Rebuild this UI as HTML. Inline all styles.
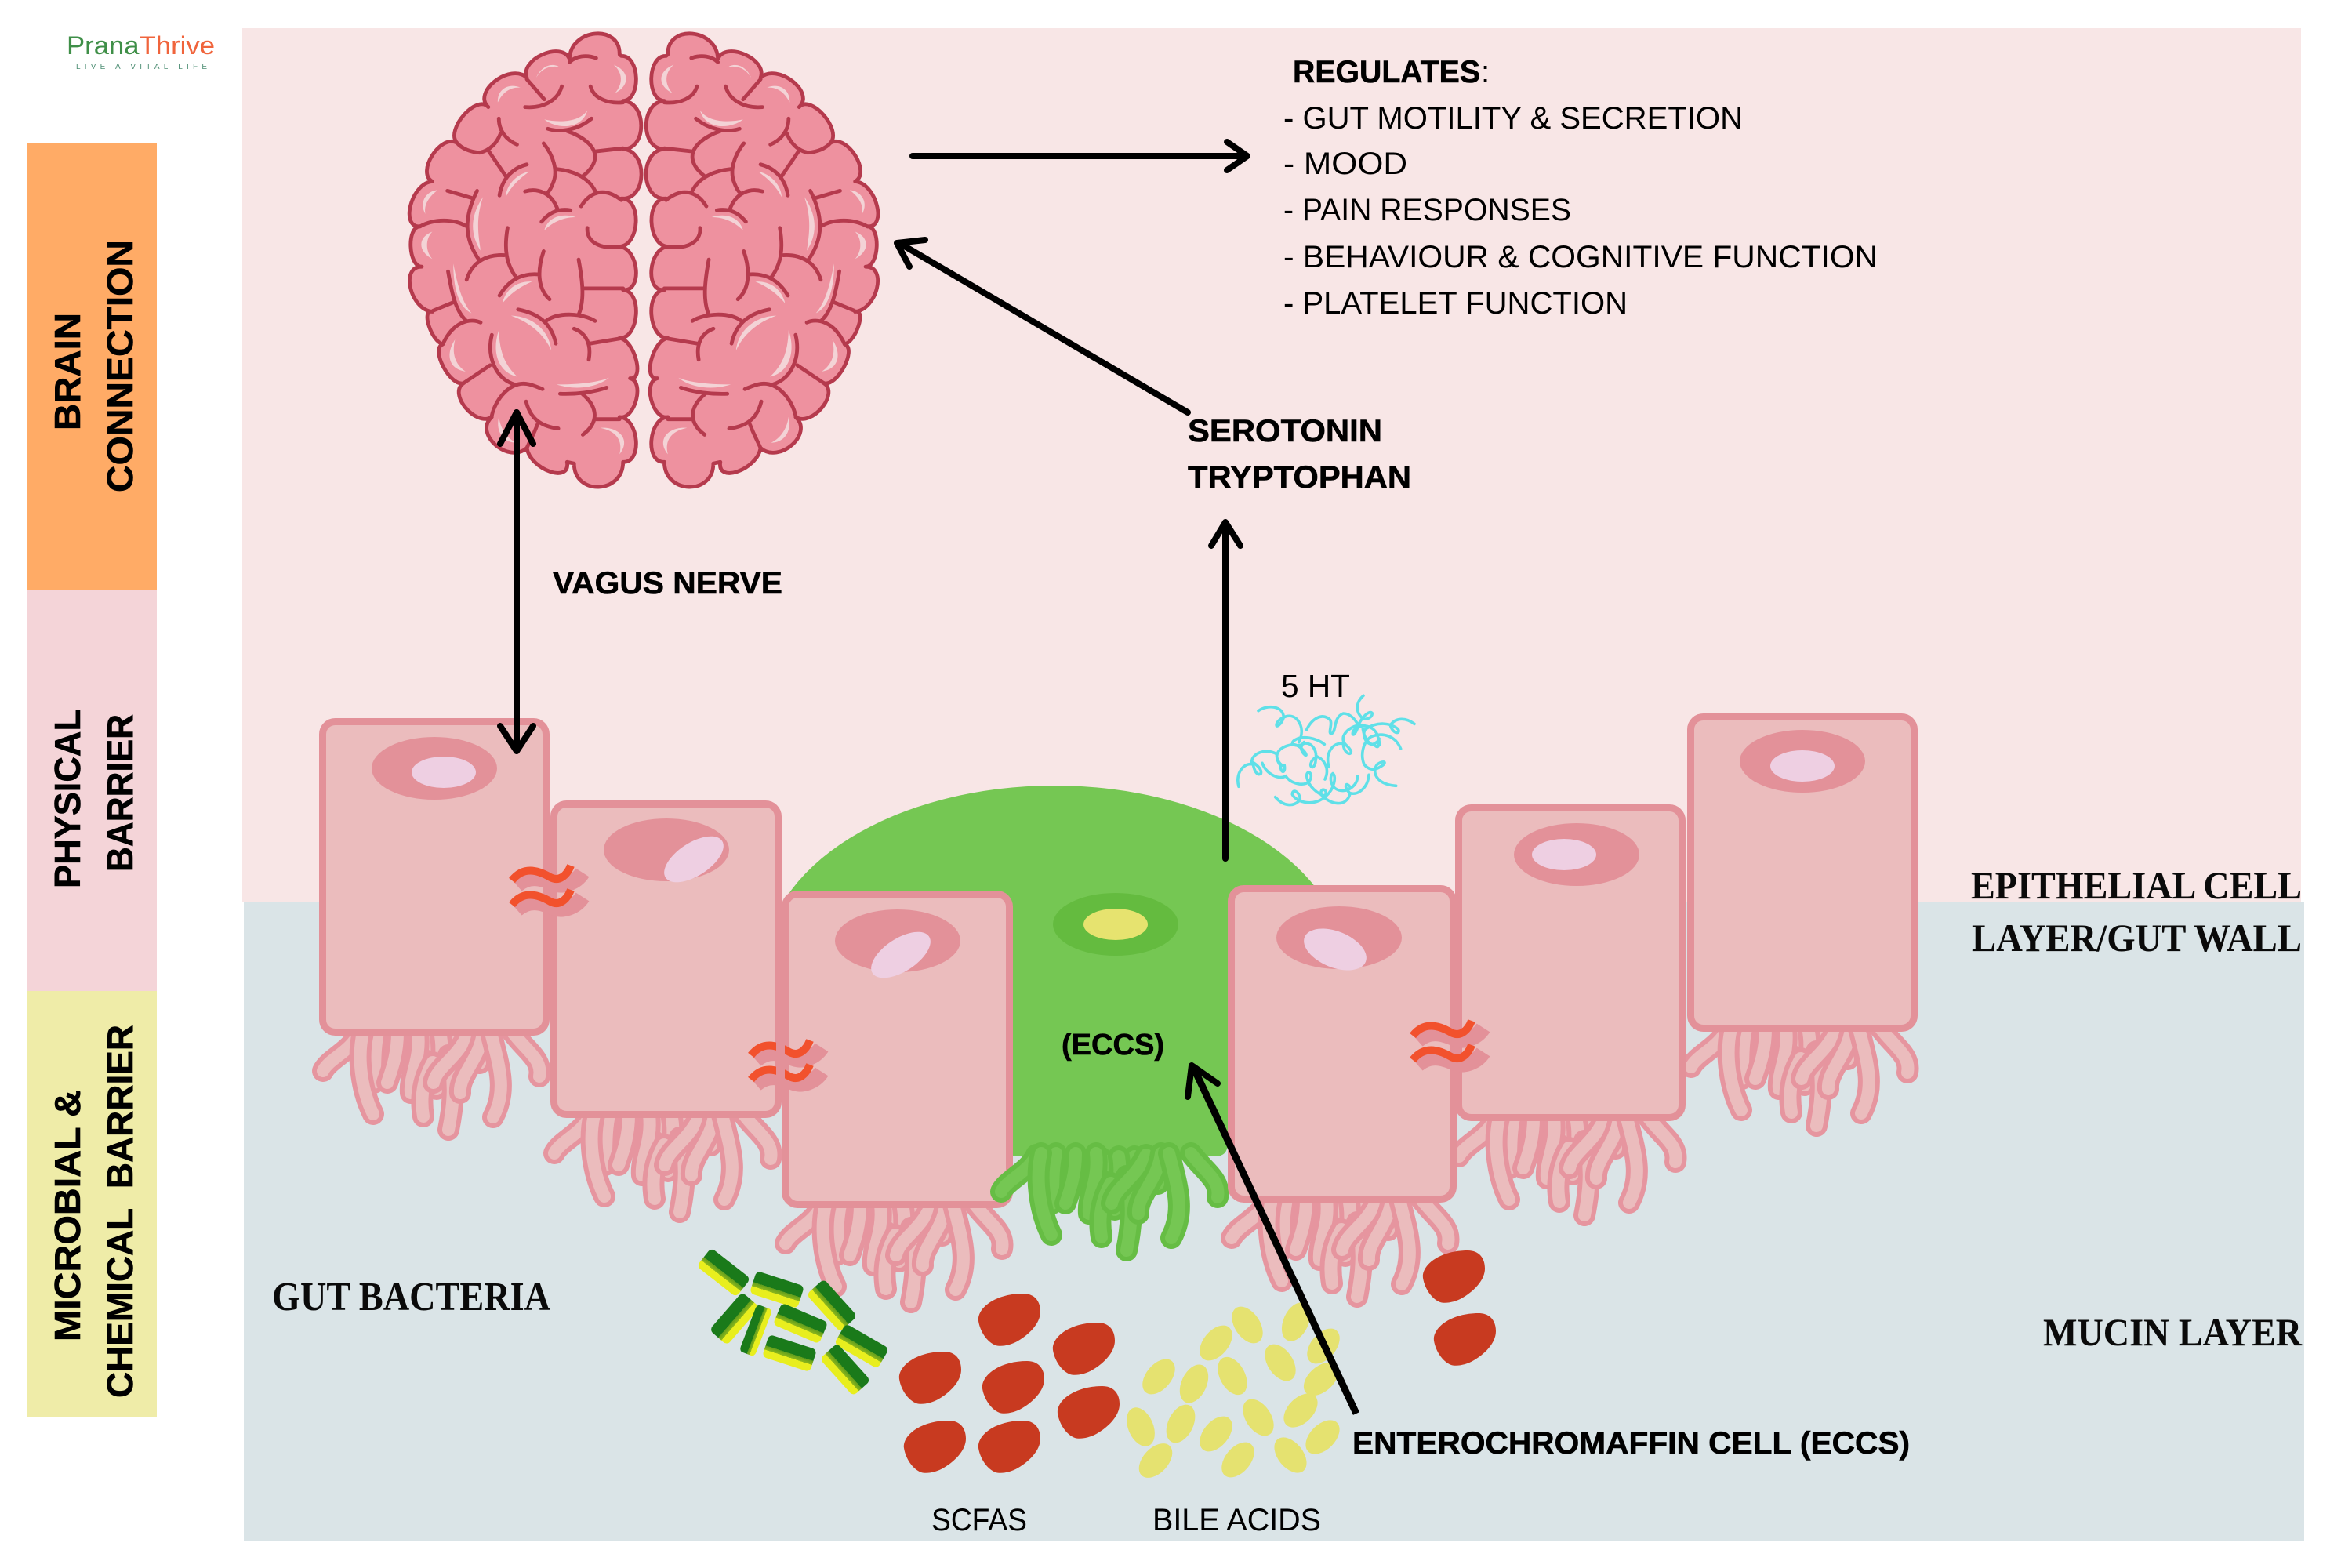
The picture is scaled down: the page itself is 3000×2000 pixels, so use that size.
<!DOCTYPE html>
<html>
<head>
<meta charset="utf-8">
<style>
html,body{margin:0;padding:0;background:#fff;}
svg{display:block;}
.s{font-family:"Liberation Sans",sans-serif;fill:#000;}
.b{font-family:"Liberation Sans",sans-serif;font-weight:bold;fill:#000;stroke:#000;stroke-width:.6;}
.r{font-family:"Liberation Serif",serif;font-weight:bold;fill:#0a0a0a;}
.o{fill:none;stroke:var(--o);stroke-width:28;stroke-linecap:round;}
.i{fill:none;stroke:var(--i);stroke-width:16;stroke-linecap:round;}
.cell{fill:#ebbcbd;stroke:#e39199;stroke-width:9;}
.nuc{fill:#e39199;}
.inn{fill:#eecfe2;}
.arr{fill:none;stroke:#000;stroke-width:8;stroke-linecap:round;stroke-linejoin:round;}
.bo{fill:#ee919f;stroke:#b53a4d;stroke-width:4.8;vector-effect:non-scaling-stroke;stroke-linejoin:round;}
.su{fill:none;stroke:#b53a4d;stroke-width:4.8;stroke-linecap:round;vector-effect:non-scaling-stroke;}
.hi{fill:#f3d3d6;}
.tw path{fill:none;stroke:#5fe0e8;stroke-width:3.6;stroke-linecap:round;vector-effect:non-scaling-stroke;}
.bi{fill:#e5e270;}
</style>
</head>
<body>
<svg width="3000" height="2000" viewBox="0 0 3000 2000" xmlns="http://www.w3.org/2000/svg">
<defs>
<linearGradient id="bg" x1="0" y1="0" x2="0" y2="1">
<stop offset="0" stop-color="#1a7a1a"/><stop offset=".5" stop-color="#1a7a1a"/><stop offset=".5" stop-color="#5f9d1c"/><stop offset=".68" stop-color="#8fb81c"/><stop offset=".68" stop-color="#e8ee1e"/><stop offset="1" stop-color="#e8ee1e"/>
</linearGradient>
<path id="blob" fill="#c83a20" d="M18 -33C33 -33,40 -23,40 -10C40 6,24 20,12 27C2 33,-10 35,-17 33C-28 29,-37 15,-39 2C-41 -14,-18 -33,18 -33Z"/>
<rect id="rod" x="-32" y="-15" width="64" height="30" rx="6" fill="url(#bg)"/>
<g id="wave">
<path d="M-40 10C-25 -3,-10 0,8 8C18 12,35 8,44 -6" fill="none" stroke="#e39199" stroke-width="20"/>
<path d="M-46 4C-32 -14,-14 -10,3 0C14 6,24 -2,29 -15" fill="none" stroke="#f2512d" stroke-width="10"/>
<path d="M-40 41C-25 28,-10 31,8 39C18 43,35 39,44 25" fill="none" stroke="#e39199" stroke-width="20"/>
<path d="M-46 35C-32 17,-14 21,3 31C14 37,24 29,29 16" fill="none" stroke="#f2512d" stroke-width="10"/>
</g>
<g id="v">
<path class="o" d="M130 0L175 35"/><path class="i" d="M130 0L175 35"/>
<path class="o" d="M175 0L205 35"/><path class="i" d="M175 0L205 35"/>
<path class="o" d="M50 -2C40 20,12 30,5 45"/><path class="i" d="M50 -2C40 20,12 30,5 45"/>
<path class="o" d="M75 -4C70 20,72 40,70 60"/><path class="i" d="M75 -4C70 20,72 40,70 60"/>
<path class="o" d="M56 -4C48 30,55 72,69 100"/><path class="i" d="M56 -4C48 30,55 72,69 100"/>
<path class="o" d="M100 -4C100 25,92 45,87 60"/><path class="i" d="M100 -4C100 25,92 45,87 60"/>
<path class="o" d="M155 0C160 30,150 50,150 68"/><path class="i" d="M155 0C160 30,150 50,150 68"/>
<path class="o" d="M126 -4C130 30,115 50,117 73"/><path class="i" d="M126 -4C130 30,115 50,117 73"/>
<path class="o" d="M145 34C130 60,130 85,133 103"/><path class="i" d="M145 34C130 60,130 85,133 103"/>
<path class="o" d="M165 25C175 60,170 95,165 120"/><path class="i" d="M165 25C175 60,170 95,165 120"/>
<path class="o" d="M190 -2C175 30,150 40,146 60"/><path class="i" d="M190 -2C175 30,150 40,146 60"/>
<path class="o" d="M209 -4C205 30,178 50,180 73"/><path class="i" d="M209 -4C205 30,178 50,180 73"/>
<path class="o" d="M219 -4C230 40,240 70,222 104"/><path class="i" d="M219 -4C230 40,240 70,222 104"/>
<path class="o" d="M247 -4C265 20,285 30,281 52"/><path class="i" d="M247 -4C265 20,285 30,281 52"/>
</g>
<g id="hemi">
<path class="bo" d="M552 140C554 41,697 26,695 125L700 130C753 127,758 272,705 275C774 278,774 433,705 430C778 437,773 597,700 590C759 587,754 742,695 745C751 752,761 892,705 885C761 888,751 1043,695 1040C738 1047,768 1177,725 1170C768 1181,738 1306,695 1295C751 1299,761 1444,705 1440C705 1544,565 1549,565 1445L545 1440C556 1511,441 1466,430 1395C377 1448,277 1348,330 1295C283 1328,203 1218,250 1185C213 1201,153 1076,190 1060C157 1051,127 946,160 955C97 948,67 808,130 810C91 810,86 680,125 680C66 684,101 539,160 535C113 506,183 381,230 410C197 367,287 252,320 295C273 246,383 151,430 200C409 140,531 80,552 140Z"/>
<path class="hi" d="M457 200C470 165,500 150,522 165C490 160,470 175,457 200Z"/>
<path class="hi" d="M678 158C725 180,725 225,682 250C705 220,705 185,678 158Z"/>
<path class="hi" d="M347 280C345 240,375 215,412 232C380 230,360 250,347 280Z"/>
<path class="hi" d="M480 335C520 345,580 345,603 305C590 365,520 370,480 335Z"/>
<path class="hi" d="M370 585C370 550,400 510,437 503C410 525,385 550,370 585Z"/>
<path class="hi" d="M140 640C120 600,145 565,175 563C150 585,135 610,140 640Z"/>
<path class="hi" d="M480 693C490 650,530 635,570 650C530 650,500 670,480 693Z"/>
<path class="hi" d="M305 585C265 650,270 710,298 758C290 700,285 650,305 585Z"/>
<path class="hi" d="M160 785C118 760,118 715,160 697C140 720,140 760,160 785Z"/>
<path class="hi" d="M220 800C220 880,235 940,272 960C245 925,232 870,220 800Z"/>
<path class="hi" d="M360 928C370 880,405 855,445 858C410 875,385 895,360 928Z"/>
<path class="hi" d="M385 968C450 970,495 1020,500 1080C480 1030,440 990,385 968Z"/>
<path class="hi" d="M350 1015C330 1080,345 1150,403 1165C370 1130,352 1090,350 1015Z"/>
<path class="hi" d="M225 1045C198 1090,205 1140,255 1148C225 1125,215 1090,225 1045Z"/>
<path class="hi" d="M515 1190C570 1210,630 1200,665 1168C630 1185,570 1190,515 1190Z"/>
<path class="hi" d="M350 1295C340 1345,365 1378,400 1378C375 1365,355 1335,350 1295Z"/>
<path class="hi" d="M640 1330C690 1325,730 1365,695 1415C705 1370,685 1340,640 1330Z"/>
<path class="su" d="M430 205L480 270M425 295C480 300,520 270,530 228M612 228C620 265,660 285,705 280M552 150C570 130,600 125,628 137M490 365C530 380,580 365,615 332M545 372C590 390,625 420,625 455C625 480,610 500,590 518M625 438L705 428M515 495C560 500,605 520,625 565M478 412C505 450,520 500,505 540C500 555,495 565,490 570M425 567C460 555,500 570,518 625M430 480C395 490,360 520,352 580M320 435L370 518M350 332C350 370,370 400,402 416M355 380C345 410,325 435,295 442C270 440,245 430,230 410M203 565L272 588M288 565C250 650,250 720,295 790M255 678C220 655,165 655,125 680M585 615C610 570,650 550,700 595M472 665C490 640,515 620,555 628M603 685C600 730,640 755,695 745M375 685C365 750,370 800,400 845M365 773C320 770,275 790,258 852M478 760C460 820,460 880,495 915M352 903C380 850,420 830,465 835M578 787C590 860,595 920,578 965M590 880L705 880M205 825C215 890,225 950,255 982M162 952L220 925M298 990C270 975,220 985,190 1060M405 948C460 960,500 990,513 1058M485 985C520 955,590 960,625 985M565 1010C600 1025,615 1060,607 1110M610 1058L695 1042M330 1030C315 1100,340 1170,395 1190M325 1128L250 1185M330 1290C340 1240,380 1180,430 1188C445 1190,460 1198,475 1205M525 1220C570 1222,620 1215,658 1200M590 1222C630 1260,640 1310,590 1352M428 1245C440 1300,470 1325,520 1332M625 1302L695 1302M460 1320C450 1350,440 1370,430 1395"/>
</g>
</defs>

<!-- backgrounds -->
<rect x="309" y="36" width="2626" height="1114" fill="#f8e6e6"/>
<rect x="311" y="1150" width="2628" height="816" fill="#dae4e7"/>
<rect x="35" y="183" width="165" height="570" fill="#ffab66"/>
<rect x="35" y="753" width="165" height="511" fill="#f4d4d8"/>
<rect x="35" y="1264" width="165" height="544" fill="#efeca8"/>

<!-- logo -->
<text x="85" y="69" font-size="32" textLength="189" lengthAdjust="spacingAndGlyphs" class="s"><tspan fill="#3f8f48">Prana</tspan><tspan fill="#f0643c">Thrive</tspan></text>
<text x="97" y="88" font-size="10" textLength="167" class="s" style="fill:#4f8f75">LIVE A VITAL LIFE</text>

<!-- brain -->
<g transform="translate(480,20) scale(.4464,.3953)">
<use href="#hemi"/>
<use href="#hemi" transform="translate(1528,0) scale(-1,1)"/>
</g>

<!-- green cell body -->
<ellipse cx="1345" cy="1232" rx="370" ry="230" fill="#75c753"/>
<path d="M1284 1200H1566V1458Q1566 1475 1550 1475H1284Z" fill="#75c753"/>
<ellipse cx="1423" cy="1179" rx="80" ry="40" fill="#64bb3f"/>
<ellipse cx="1423" cy="1179" rx="41" ry="20" fill="#e6e36f"/>

<!-- villi -->
<g style="--o:#e6959f;--i:#ebbcbd">
<use href="#v" x="407" y="1321"/>
<use href="#v" x="702" y="1426"/>
<use href="#v" x="997" y="1541"/>
<use href="#v" x="1566" y="1534"/>
<use href="#v" x="1856" y="1430"/>
<use href="#v" x="2152" y="1316"/>
</g>

<!-- cells -->
<rect class="cell" x="411.500" y="920.500" width="285" height="396" rx="16"/>
<ellipse class="nuc" cx="554" cy="980" rx="80" ry="40"/>
<ellipse class="inn" cx="566" cy="985" rx="41" ry="20"/>

<rect class="cell" x="706.500" y="1025.500" width="286" height="396" rx="16"/>
<ellipse class="nuc" cx="850" cy="1084" rx="80" ry="40"/>
<ellipse class="inn" cx="885" cy="1096" rx="43" ry="21" transform="rotate(-33 885 1096)"/>

<rect class="cell" x="1001.500" y="1140.500" width="286" height="396" rx="16"/>
<ellipse class="nuc" cx="1145" cy="1200" rx="80" ry="40"/>
<ellipse class="inn" cx="1149" cy="1218" rx="43" ry="21" transform="rotate(-33 1149 1218)"/>

<!-- green villi over cell 3 -->
<g style="--o:#66bd44;--i:#75c753"><use href="#v" x="1272" y="1475"/></g>

<rect class="cell" x="2156.500" y="914.500" width="285" height="397" rx="16"/>
<ellipse class="nuc" cx="2299" cy="971" rx="80" ry="40"/>
<ellipse class="inn" cx="2299" cy="977" rx="41" ry="20"/>

<rect class="cell" x="1860.500" y="1030.500" width="285" height="395" rx="16"/>
<ellipse class="nuc" cx="2011" cy="1090" rx="80" ry="40"/>
<ellipse class="inn" cx="1995" cy="1090" rx="41" ry="20"/>

<rect class="cell" x="1570.500" y="1133.500" width="283" height="396" rx="16"/>
<ellipse class="nuc" cx="1708" cy="1196" rx="80" ry="40"/>
<ellipse class="inn" cx="1703" cy="1211" rx="42" ry="23" transform="rotate(22 1703 1211)"/>

<!-- junction waves -->
<use href="#wave" x="699" y="1119"/>
<use href="#wave" x="1004" y="1342"/>
<rect x="990" y="1325" width="11" height="66" fill="#e39199"/>
<use href="#wave" x="1848" y="1317"/>

<!-- bacteria -->
<use href="#rod" transform="translate(923,1623) rotate(38)"/>
<use href="#rod" transform="translate(991,1645) rotate(18)"/>
<use href="#rod" transform="translate(1061,1665) rotate(48)"/>
<use href="#rod" transform="translate(937,1682) rotate(-49)"/>
<use href="#rod" transform="translate(964,1697) rotate(-69) scale(1,.7)"/>
<use href="#rod" transform="translate(1021,1688) rotate(23)"/>
<use href="#rod" transform="translate(1099,1717) rotate(30)"/>
<use href="#rod" transform="translate(1007,1726) rotate(18)"/>
<use href="#rod" transform="translate(1078,1747) rotate(48)"/>

<!-- SCFAs -->
<use href="#blob" x="1287" y="1683"/>
<use href="#blob" x="1382" y="1720"/>
<use href="#blob" x="1186" y="1757"/>
<use href="#blob" x="1292" y="1769"/>
<use href="#blob" x="1388" y="1801"/>
<use href="#blob" x="1192" y="1845"/>
<use href="#blob" x="1287" y="1845"/>
<use href="#blob" x="1854" y="1628"/>
<use href="#blob" x="1868" y="1708"/>

<!-- bile acids -->
<g class="bi">
<ellipse cx="1591" cy="1690" rx="26" ry="16" transform="rotate(56 1591 1690)"/>
<ellipse cx="1653" cy="1686" rx="26" ry="16" transform="rotate(114 1653 1686)"/>
<ellipse cx="1551" cy="1713" rx="26" ry="16" transform="rotate(130 1551 1713)"/>
<ellipse cx="1688" cy="1717" rx="26" ry="16" transform="rotate(130 1688 1717)"/>
<ellipse cx="1633" cy="1738" rx="26" ry="16" transform="rotate(56 1633 1738)"/>
<ellipse cx="1478" cy="1756" rx="26" ry="16" transform="rotate(130 1478 1756)"/>
<ellipse cx="1523" cy="1765" rx="26" ry="16" transform="rotate(115 1523 1765)"/>
<ellipse cx="1572" cy="1755" rx="26" ry="16" transform="rotate(62 1572 1755)"/>
<ellipse cx="1685" cy="1759" rx="26" ry="16" transform="rotate(138 1685 1759)"/>
<ellipse cx="1659" cy="1799" rx="26" ry="16" transform="rotate(135 1659 1799)"/>
<ellipse cx="1605" cy="1808" rx="26" ry="16" transform="rotate(56 1605 1808)"/>
<ellipse cx="1455" cy="1820" rx="26" ry="16" transform="rotate(67 1455 1820)"/>
<ellipse cx="1506" cy="1816" rx="26" ry="16" transform="rotate(116 1506 1816)"/>
<ellipse cx="1551" cy="1829" rx="26" ry="16" transform="rotate(130 1551 1829)"/>
<ellipse cx="1687" cy="1833" rx="26" ry="16" transform="rotate(135 1687 1833)"/>
<ellipse cx="1646" cy="1856" rx="26" ry="16" transform="rotate(51 1646 1856)"/>
<ellipse cx="1474" cy="1863" rx="26" ry="16" transform="rotate(133 1474 1863)"/>
<ellipse cx="1579" cy="1862" rx="26" ry="16" transform="rotate(130 1579 1862)"/>
</g>

<!-- 5HT squiggle -->
<g class="tw" transform="translate(1500,840) scale(.33333)">
<path d="M315 200C350 175,410 180,412 225C405 250,380 270,385 250C395 225,440 205,465 235C485 260,485 290,470 320"/>
<path d="M500 272C520 230,560 205,590 235C600 250,580 290,595 287C615 280,600 225,640 210C670 210,690 240,700 260"/>
<path d="M717 142C690 165,685 200,710 225C725 240,755 225,750 208C735 195,700 240,695 265C680 305,670 290,680 275C700 250,750 250,770 290C785 340,770 345,760 330C735 330,720 300,715 270"/>
<path d="M568 328C540 305,480 290,450 315C435 330,465 340,490 325C520 320,540 350,535 385"/>
<path d="M240 490C225 440,260 395,295 405C300 430,310 450,325 440C330 420,300 400,290 395C290 365,340 340,385 365C385 390,400 410,415 410C420 440,400 440,400 410C370 370,390 340,440 330C470 320,510 375,495 370C470 350,480 330,490 320"/>
<path d="M330 400C345 440,390 465,420 450C440 480,490 490,510 470C530 440,500 420,500 450C505 490,545 520,570 525C585 500,550 490,555 520C590 560,650 570,665 520"/>
<path d="M380 530C410 565,450 570,475 540C475 510,445 495,445 520C460 550,530 570,575 525C605 500,615 450,600 440C585 450,590 500,630 505C665 510,695 480,695 450"/>
<path d="M570 462C590 420,565 385,540 375C510 390,510 420,525 415C540 400,530 380,540 375"/>
<path d="M585 415C570 360,600 320,640 325C640 360,670 375,670 355C660 330,635 330,640 300C650 270,690 250,720 255"/>
<path d="M738 445C735 490,700 525,665 515C640 490,650 470,665 490"/>
<path d="M860 345C840 295,790 280,745 300C715 320,705 370,720 405C735 425,760 430,780 415C810 400,800 385,770 405C750 430,760 480,842 487"/>
<path d="M912 250C880 225,840 225,820 255C830 290,860 290,850 270C820 245,770 240,725 270C705 300,740 340,760 325C790 310,770 290,780 330"/>
</g>

<!-- arrows -->
<g class="arr">
<path d="M659 526V957"/><path d="M638 566L659 526L680 566"/><path d="M638 926L659 958L680 926"/>
<path d="M1164 199H1589"/><path d="M1565 181L1591 199L1565 217"/>
<path d="M1515 526L1147 310"/><path d="M1160 340L1144 310L1180 306"/>
<path d="M1563 1095V668"/><path d="M1545 696L1563 666L1582 696"/>
</g>
<path d="M1730 1803L1522 1361" fill="none" stroke="#000" stroke-width="9"/>
<path class="arr" d="M1515 1399L1520 1359L1553 1382"/>

<!-- text -->
<text class="b" font-size="40" x="1649" y="105" textLength="239" lengthAdjust="spacingAndGlyphs">REGULATES</text>
<text class="s" font-size="40" x="1889" y="105">:</text>
<text class="s" font-size="40" x="1637" y="164" textLength="586" lengthAdjust="spacingAndGlyphs">- GUT MOTILITY &amp; SECRETION</text>
<text class="s" font-size="40" x="1637" y="222" textLength="158" lengthAdjust="spacingAndGlyphs">- MOOD</text>
<text class="s" font-size="40" x="1637" y="281" textLength="367" lengthAdjust="spacingAndGlyphs">- PAIN RESPONSES</text>
<text class="s" font-size="40" x="1637" y="341" textLength="758" lengthAdjust="spacingAndGlyphs">- BEHAVIOUR &amp; COGNITIVE FUNCTION</text>
<text class="s" font-size="40" x="1637" y="400" textLength="439" lengthAdjust="spacingAndGlyphs">- PLATELET FUNCTION</text>

<text class="b" font-size="40" x="1515" y="563" textLength="248" lengthAdjust="spacingAndGlyphs">SEROTONIN</text>
<text class="b" font-size="40" x="1515" y="622" textLength="285" lengthAdjust="spacingAndGlyphs">TRYPTOPHAN</text>
<text class="b" font-size="40" x="705" y="757" textLength="293" lengthAdjust="spacingAndGlyphs">VAGUS NERVE</text>
<text class="s" font-size="41" x="1634" y="889" textLength="88" lengthAdjust="spacingAndGlyphs">5 HT</text>
<text class="b" font-size="38" x="1354" y="1345" textLength="131" lengthAdjust="spacingAndGlyphs">(ECCS)</text>
<text class="b" font-size="40" x="1725" y="1854" textLength="711" lengthAdjust="spacingAndGlyphs">ENTEROCHROMAFFIN CELL (ECCS)</text>
<text class="s" font-size="40" x="1188" y="1952" textLength="122" lengthAdjust="spacingAndGlyphs">SCFAS</text>
<text class="s" font-size="40" x="1470" y="1952" textLength="215" lengthAdjust="spacingAndGlyphs">BILE ACIDS</text>

<text class="r" font-size="50" x="2514" y="1146" textLength="422" lengthAdjust="spacingAndGlyphs">EPITHELIAL CELL</text>
<text class="r" font-size="50" x="2515" y="1213" textLength="421" lengthAdjust="spacingAndGlyphs">LAYER/GUT WALL</text>
<text class="r" font-size="50" x="2606" y="1716" textLength="330" lengthAdjust="spacingAndGlyphs">MUCIN LAYER</text>
<text class="r" font-size="52" x="347" y="1671" textLength="355" lengthAdjust="spacingAndGlyphs">GUT BACTERIA</text>

<text class="b" font-size="46" transform="translate(102,549) rotate(-90)" textLength="150" lengthAdjust="spacingAndGlyphs">BRAIN</text>
<text class="b" font-size="46" transform="translate(169,628) rotate(-90)" textLength="322" lengthAdjust="spacingAndGlyphs">CONNECTION</text>
<text class="b" font-size="46" transform="translate(102,1133) rotate(-90)" textLength="228" lengthAdjust="spacingAndGlyphs">PHYSICAL</text>
<text class="b" font-size="46" transform="translate(169,1112) rotate(-90)" textLength="201" lengthAdjust="spacingAndGlyphs">BARRIER</text>
<text class="b" font-size="46" transform="translate(102,1711) rotate(-90)" textLength="321" lengthAdjust="spacingAndGlyphs">MICROBIAL &amp;</text>
<text class="b" font-size="46" transform="translate(169,1783) rotate(-90)" textLength="476" lengthAdjust="spacingAndGlyphs" xml:space="preserve">CHEMICAL  BARRIER</text>
</svg>
</body>
</html>
